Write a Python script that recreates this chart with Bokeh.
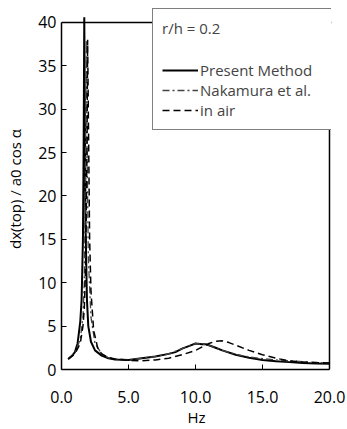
from bokeh.plotting import figure
from bokeh.models import Legend, LegendItem, FixedTicker, PrintfTickFormatter, Range1d, Span
from bokeh.embed import file_html
from bokeh.resources import INLINE

# Present Method (solid)
pm_hz = [0.5, 0.8, 1.0, 1.2, 1.4, 1.5, 1.6, 1.65, 1.7, 1.75, 1.8, 1.9, 2.0, 2.2, 2.5,
         3.0, 3.5, 4.0, 5.0, 6.0, 7.0, 8.0, 8.5, 9.0, 9.5, 10.0, 10.5, 10.8, 11.0,
         11.5, 12.0, 13.0, 14.0, 15.0, 16.0, 17.0, 18.0, 19.0, 20.0]
pm_val = [1.2, 1.6, 2.0, 3.0, 5.5, 8.0, 15.0, 25.0, 40.6, 28.0, 16.0, 8.0, 5.0, 3.2, 2.2,
          1.6, 1.3, 1.15, 1.1, 1.3, 1.5, 1.8, 2.0, 2.4, 2.7, 3.0, 2.9, 2.9, 2.8,
          2.5, 2.2, 1.7, 1.35, 1.1, 0.95, 0.85, 0.75, 0.7, 0.65]

# Nakamura et al. (dash-dot)
nk_hz = [0.5, 1.0, 1.4, 1.6, 1.7, 1.75, 1.8, 1.85, 1.9, 2.0, 2.2, 2.5, 3.0, 3.5, 4.0,
         5.0, 6.0, 7.0, 8.0, 9.0, 10.0, 11.0, 12.0, 13.0, 14.0, 15.0, 16.0, 17.0,
         18.0, 19.0, 20.0]
nk_val = [1.2, 1.9, 3.5, 6.0, 10.0, 16.0, 26.0, 38.0, 27.0, 13.0, 6.0, 3.0, 1.8, 1.35, 1.2,
          1.1, 1.3, 1.5, 1.8, 2.4, 3.0, 2.8, 2.2, 1.75, 1.45, 1.25, 1.1, 1.0,
          0.9, 0.8, 0.75]

# in air (dashed)
air_hz = [0.5, 1.0, 1.4, 1.6, 1.7, 1.8, 1.9, 1.95, 2.0, 2.1, 2.2, 2.4, 2.7, 3.0, 3.5,
          4.0, 5.0, 6.0, 7.0, 8.0, 9.0, 10.0, 10.5, 11.0, 11.5, 12.0, 12.5, 13.0,
          14.0, 15.0, 16.0, 17.0, 18.0, 19.0, 20.0]
air_val = [1.2, 1.8, 3.0, 5.0, 7.0, 12.0, 25.0, 38.0, 30.0, 15.0, 9.0, 4.5, 2.5, 1.8, 1.4,
           1.2, 1.05, 1.0, 1.1, 1.3, 1.7, 2.2, 2.6, 3.0, 3.25, 3.3, 3.1, 2.8,
           2.2, 1.7, 1.3, 1.0, 0.85, 0.8, 0.75]

x_ticks = [0, 5, 10, 15, 20]
y_ticks = [0, 5, 10, 15, 20, 25, 30, 35, 40]
x_max = 20
y_max = 40

FONT = "Open Sans"

p = figure(width=347, height=429, output_backend="svg", toolbar_location=None,
           x_range=Range1d(0, 20.15), y_range=Range1d(0, 41.6),
           min_border_left=61, min_border_right=16, min_border_top=8, min_border_bottom=60)
p.grid.visible = False
p.outline_line_color = None
p.background_fill_color = "white"
p.border_fill_color = "white"

r_pm = p.line(pm_hz, pm_val, line_color="black", line_width=2)
r_nk = p.line(nk_hz, nk_val, line_color="#444444", line_width=1.3, line_dash="7 3 2 3")
r_air = p.line(air_hz, air_val, line_color="black", line_width=1.5, line_dash="7 4")

for ax in (p.xaxis[0], p.yaxis[0]):
    ax.axis_line_color = "black"
    ax.axis_line_width = 1.5
    ax.major_tick_in = 5
    ax.major_tick_out = 0
    ax.minor_tick_line_color = None
    ax.major_label_text_font = FONT
    ax.major_label_text_font_size = "16px"
    ax.major_label_text_color = "black"
    ax.axis_label_text_font = FONT
    ax.axis_label_text_font_size = "15px"
    ax.axis_label_text_font_style = "normal"
    ax.axis_label_text_color = "black"

p.xaxis.ticker = FixedTicker(ticks=x_ticks)
p.xaxis.bounds = (0, x_max)
p.xaxis.formatter = PrintfTickFormatter(format="%.1f")
p.xaxis.major_label_standoff = 21
p.xaxis.axis_label = "Hz"
p.xaxis.axis_label_standoff = 1

p.yaxis.ticker = FixedTicker(ticks=y_ticks)
p.yaxis.bounds = (0, y_max)
p.yaxis.major_label_standoff = 5
p.yaxis.axis_label = "dx(top) / a0 cos α"
p.yaxis.axis_label_standoff = 10

# frame edges at the top (y = 40) and right (x = 20)
p.add_layout(Span(location=y_max, dimension="width", line_color="black", line_width=1.5))
p.add_layout(Span(location=x_max, dimension="height", line_color="black", line_width=1.5))

legend = Legend(items=[
    LegendItem(label="Present Method", renderers=[r_pm]),
    LegendItem(label="Nakamura et al.", renderers=[r_nk]),
    LegendItem(label="in air", renderers=[r_air]),
], location=(91, 239))
legend.title = "r/h = 0.2"
legend.title_text_font = FONT
legend.title_text_font_size = "15px"
legend.title_text_font_style = "normal"
legend.title_standoff = 22
legend.label_text_font = FONT
legend.label_text_font_size = "15px"
legend.label_standoff = 2
legend.glyph_width = 36
legend.glyph_height = 18
legend.label_height = 18
legend.label_width = 123
legend.spacing = 0
legend.padding = 9
legend.margin = 0
legend.border_line_color = "black"
legend.border_line_width = 1.5
legend.background_fill_alpha = 1.0
legend.background_fill_color = "white"
p.add_layout(legend, "center")

open("out.html", "w").write(file_html(p, INLINE))
